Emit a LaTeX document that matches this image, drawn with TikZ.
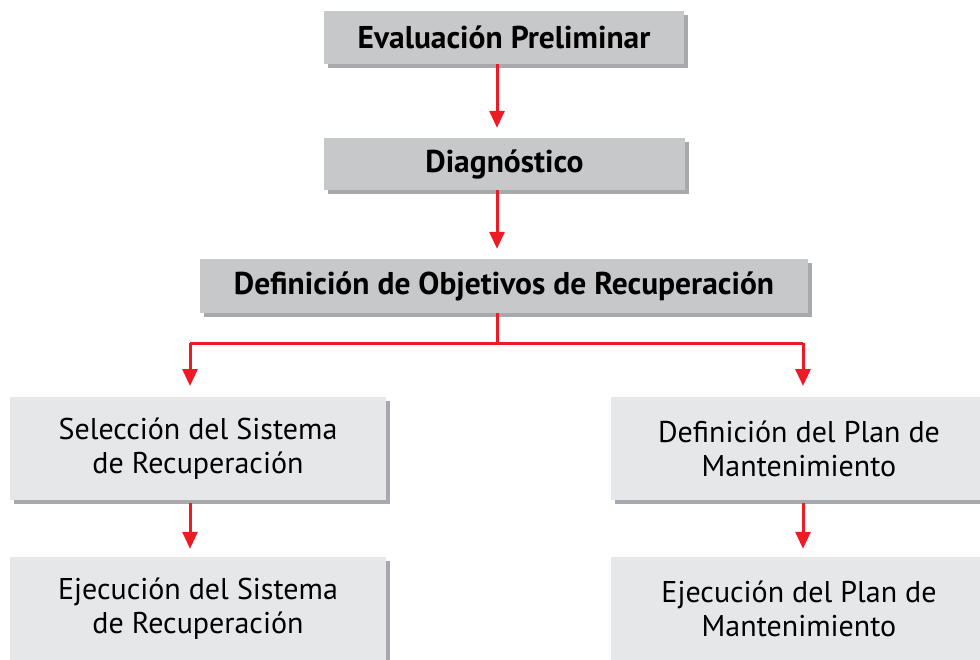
\documentclass[tikz,border=0pt]{standalone}
\usepackage{fontspec}
\setmainfont{PT Sans}
\usetikzlibrary{arrows.meta,shadows,calc}
\definecolor{darkbox}{HTML}{C7C8CA}
\definecolor{lightbox}{HTML}{E6E7E8}
\definecolor{shadowgray}{HTML}{A7A9AC}
\definecolor{arrowred}{HTML}{ED1C24}
\tikzset{
  boxbase/.style={rectangle, inner sep=0pt, align=center,
    drop shadow={shadow xshift=4pt, shadow yshift=-4pt, fill=shadowgray, opacity=1}},
  topbox/.style={boxbase, fill=darkbox, font=\fontsize{31.5}{36}\selectfont\bfseries},
  lowbox/.style={boxbase, fill=lightbox, font=\fontsize{30}{34}\selectfont},
  conn/.style={draw=arrowred, line width=3pt},
  arr/.style={conn, -{Triangle[width=15pt,length=17pt]}}
}
\begin{document}
\begin{tikzpicture}[x=1pt,y=-1pt]
\useasboundingbox (0,0) rectangle (980,659);
\clip (0,0) rectangle (980,659);
\node[topbox, minimum width=360pt, minimum height=53pt] (b1) at (504,37.5) {Evaluación Preliminar};
\node[topbox, minimum width=361pt, minimum height=52pt] (b2) at (504.5,164) {Diagnóstico};
\node[topbox, minimum width=608pt, minimum height=54pt] (b3) at (504,286) {Definición de Objetivos de Recuperación};
\node[lowbox, minimum width=376pt, minimum height=103pt] (b4) at (198,448.5) {Selección del Sistema\\de Recuperación};
\node[lowbox, minimum width=376pt, minimum height=103pt] (b5) at (198,608.5) {Ejecución del Sistema\\de Recuperación};
\node[lowbox, minimum width=376pt, minimum height=103pt] (b6) at (799,448.5) {Definición del Plan de\\Mantenimiento};
\node[lowbox, minimum width=376pt, minimum height=103pt] (b7) at (799,608.5) {Ejecución del Plan de\\Mantenimiento};
\coordinate (cx) at (497,0);
\coordinate (lx) at (190,0);
\coordinate (rx) at (803,0);
\coordinate (hy) at (0,343);
\coordinate (ty) at (0,386);
\draw[arr, shorten >=10pt] (b1.south -| cx) -- (b2.north -| cx);
\draw[arr, shorten >=10pt] (b2.south -| cx) -- (b3.north -| cx);
\draw[conn] (b3.south -| cx) -- (cx |- hy);
\draw[arr] (lx |- hy) -- (lx |- ty);
\draw[arr] (rx |- hy) -- (rx |- ty);
\draw[conn] (lx |- hy) -- (rx |- hy);
\draw[arr, shorten >=8pt, shorten <=3pt] (b4.south -| lx) -- (b5.north -| lx);
\draw[arr, shorten >=8pt, shorten <=3pt] (b6.south -| rx) -- (b7.north -| rx);
\end{tikzpicture}
\end{document}
